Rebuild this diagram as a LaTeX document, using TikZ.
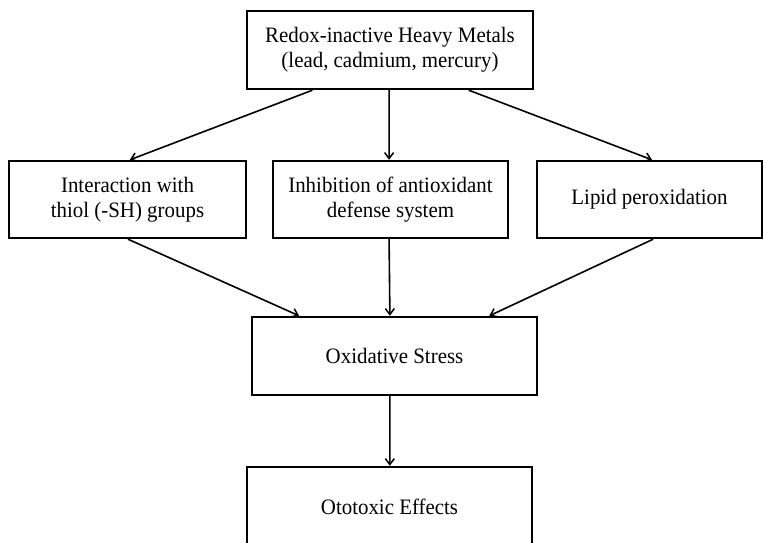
\documentclass[tikz,border=0pt]{standalone}
\usepackage{fontspec}
\setmainfont{Liberation Serif}[FakeStretch=0.95]
\usetikzlibrary{arrows.meta,calc}
\tikzset{
  flowbox/.style={draw=black, line width=2.4pt, fill=white, inner sep=0pt, align=center,
    font=\fontsize{22}{25}\selectfont},
  flowarrow/.style={line width=1.6pt, -{Straight Barb[length=6pt,width=9pt,line width=1.5pt]}}
}
\begin{document}
\begin{tikzpicture}[x=1pt,y=-1pt]
\clip (0,0) rectangle (763,543);
\fill[white] (0,0) rectangle (763,543);
\node[flowbox, minimum width=286pt, minimum height=78pt] (top) at (390,50)
  {Redox-inactive Heavy Metals\\(lead, cadmium, mercury)};
\node[flowbox, minimum width=237pt, minimum height=77pt] (thiol) at (127.5,199.5)
  {Interaction with\\thiol (-SH) groups};
\node[flowbox, minimum width=235pt, minimum height=77pt] (inhib) at (390.5,199.5)
  {Inhibition of antioxidant\\defense system};
\node[flowbox, minimum width=225pt, minimum height=77pt] (lipid) at (649.5,199.5)
  {Lipid peroxidation};
\node[flowbox, minimum width=285pt, minimum height=78pt] (oxi) at (394.5,356)
  {Oxidative Stress};
\node[flowbox, minimum width=285pt, minimum height=80pt] (oto) at (389.5,507)
  {Ototoxic Effects};
\draw[flowarrow] ($(top.south west)!0.231!(top.south east)$) -- ($(thiol.north west)!0.51!(thiol.north east)$);
\draw[flowarrow] ($(top.south west)!0.497!(top.south east)$) -- ($(inhib.north west)!0.494!(inhib.north east)$);
\draw[flowarrow] ($(top.south west)!0.773!(top.south east)$) -- ($(lipid.north west)!0.511!(lipid.north east)$);
\draw[flowarrow] ($(thiol.south west)!0.502!(thiol.south east)$) -- ($(oxi.north west)!0.168!(oxi.north east)$);
\draw[flowarrow] ($(inhib.south west)!0.494!(inhib.south east)$) -- ($(oxi.north west)!0.484!(oxi.north east)$);
\draw[flowarrow] ($(lipid.south west)!0.516!(lipid.south east)$) -- ($(oxi.north west)!0.83!(oxi.north east)$);
\draw[flowarrow] ($(oxi.south west)!0.484!(oxi.south east)$) -- ($(oto.north west)!0.501!(oto.north east)$);
\end{tikzpicture}
\end{document}
